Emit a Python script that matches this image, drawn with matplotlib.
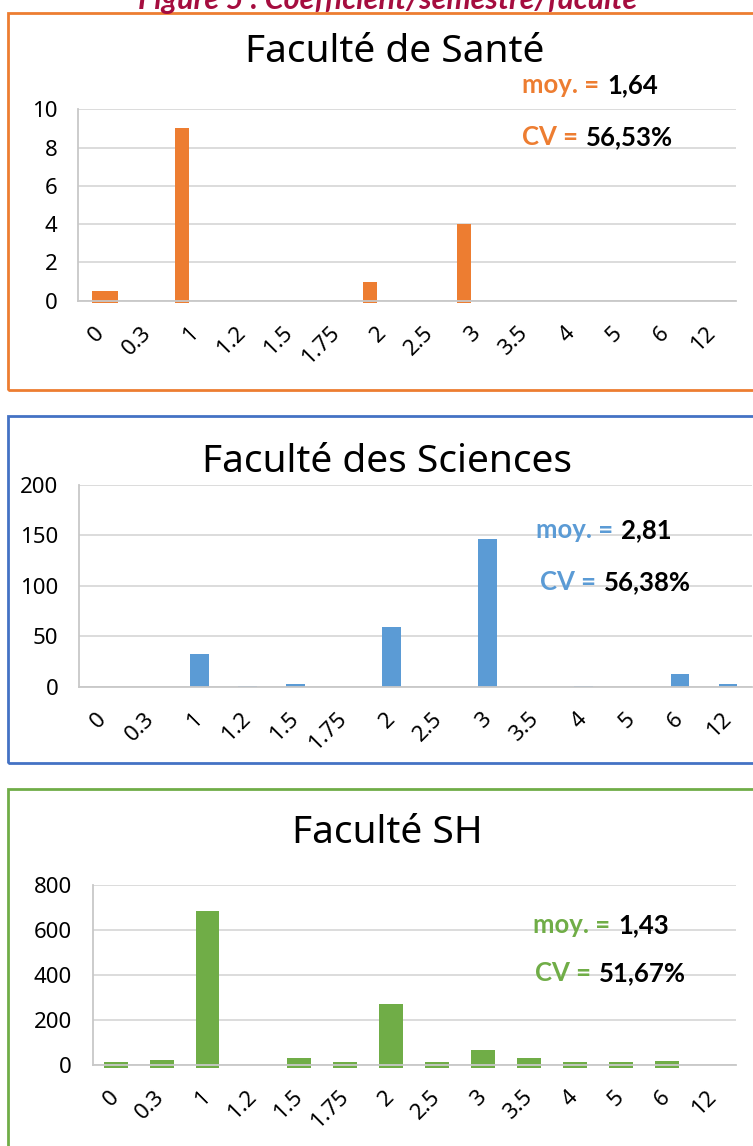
import matplotlib
matplotlib.use('Agg')

import numpy as np
import matplotlib.pyplot as plt
from matplotlib.patches import Rectangle

# data
categories = ['0', '0.3', '1', '1.2', '1.5', '1.75', '2', '2.5', '3', '3.5', '4', '5', '6', '12']
sante_counts = [0.5, 0, 9, 0, 0, 0, 1, 0, 4, 0, 0, 0, 0, 0]
sciences_counts = [0, 0, 32, 1, 3, 0, 59, 0, 146, 0, 1, 0, 13, 3]
sh_counts = [15, 22, 686, 0, 30, 15, 271, 15, 67, 32, 15, 15, 18, 0]

faculties = ['Faculté de Santé', 'Faculté des Sciences', 'Faculté SH']
means = ['1,64', '2,81', '1,43']
cvs = ['56,53%', '56,38%', '51,67%']
y_max = [10, 200, 800]
y_step = [2, 50, 200]

plt.rcParams['font.family'] = ['Noto Sans', 'DejaVu Sans']

W, H = 753, 1146
fig = plt.figure(figsize=(W / 100, H / 100), dpi=100)


def fig_rect(l, t, r, b):
    return [l / W, 1 - b / H, (r - l) / W, (b - t) / H]


# layout of each panel in pixels
panels = [
    dict(box=(8, 13, 770, 390), ax=(78, 109.3, 736, 300.7), title=(395, 52),
         moy=(522, 85), cv=(522, 137), width=0.3, offset=-0.29, sink=2.5,
         bar='#ED7D31', edge='#ED7D31'),
    dict(box=(8, 416, 770, 763), ax=(79.3, 485, 752, 686.7), title=(387, 462),
         moy=(536, 530), cv=(540, 582), width=0.39, offset=0.0, sink=0,
         bar='#5B9BD5', edge='#4472C4'),
    dict(box=(8, 789, 770, 1160), ax=(92.7, 885, 735.7, 1065), title=(387, 833),
         moy=(533, 925), cv=(535, 973), width=0.52, offset=0.0, sink=2.7,
         bar='#70AD47', edge='#70AD47'),
]
counts = [sante_counts, sciences_counts, sh_counts]

fig.text(388 / W, 1 - 9 / H, 'Figure 5 : Coefficient/semestre/faculté', ha='center',
         va='baseline', color='#A50D3F', fontsize=22, style='italic', weight='bold',
         family=['Lato', 'DejaVu Sans'])

x = np.arange(len(categories))
for i, p in enumerate(panels):
    bl, bt, br, bb = p['box']
    fig.add_artist(Rectangle((bl / W, 1 - bb / H), (br - bl) / W, (bb - bt) / H,
                             transform=fig.transFigure, fill=False,
                             edgecolor=p['edge'], lw=2))

    ax = fig.add_axes(fig_rect(*p['ax']))
    vals = np.array(counts[i], dtype=float)
    plot_h = p['ax'][3] - p['ax'][1]
    ext = p['sink'] * y_max[i] / plot_h
    mask = vals > 0
    widths = np.full(len(vals), p['width'])
    offs = np.full(len(vals), p['offset'])
    if i == 0:
        # the first bar of this chart is drawn double-wide in the source
        widths[0] = 0.55
        offs[0] = 0.07
    ax.bar(x[mask] + offs[mask], vals[mask] + ext, widths[mask], bottom=-ext,
           color=p['bar'], clip_on=False, zorder=1)

    ax.set_xlim(-0.5, len(categories) - 0.5)
    ax.set_ylim(0, y_max[i])
    ax.set_yticks(range(0, y_max[i] + 1, y_step[i]))
    ax.set_xticks(x)
    ax.set_xticklabels(categories, rotation=45, ha='right', va='center',
                       rotation_mode='anchor')
    ax.yaxis.grid(True, color='#D9D9D9', lw=1.3)
    ax.set_axisbelow(True)
    for s in ['top', 'right']:
        ax.spines[s].set_visible(False)
    for s in ['left', 'bottom']:
        ax.spines[s].set_color('#C8C8C8')
        ax.spines[s].set_linewidth(1.3)
    ax.tick_params(axis='both', length=0, labelsize=16)
    ax.tick_params(axis='y', pad=15)
    ax.tick_params(axis='x', pad=21)

    tx, ty = p['title']
    fig.text(tx / W, 1 - ty / H, faculties[i], ha='center', va='center', fontsize=28)

    for (px, py), lab, val in [(p['moy'], 'moy. =', means[i]), (p['cv'], 'CV =', cvs[i])]:
        t1 = fig.text(px / W, 1 - py / H, lab, ha='left', va='center', color=p['bar'],
                      fontsize=18.5, weight='bold', family=['Lato', 'DejaVu Sans'])
        ax.annotate(val, xy=(1, 0.5), xycoords=t1, xytext=(6, 0),
                    textcoords='offset points', ha='left', va='center', color='black',
                    fontsize=18.5, weight='bold', family=['Lato', 'DejaVu Sans'],
                    annotation_clip=False)

fig.savefig('out.png', dpi=100)
